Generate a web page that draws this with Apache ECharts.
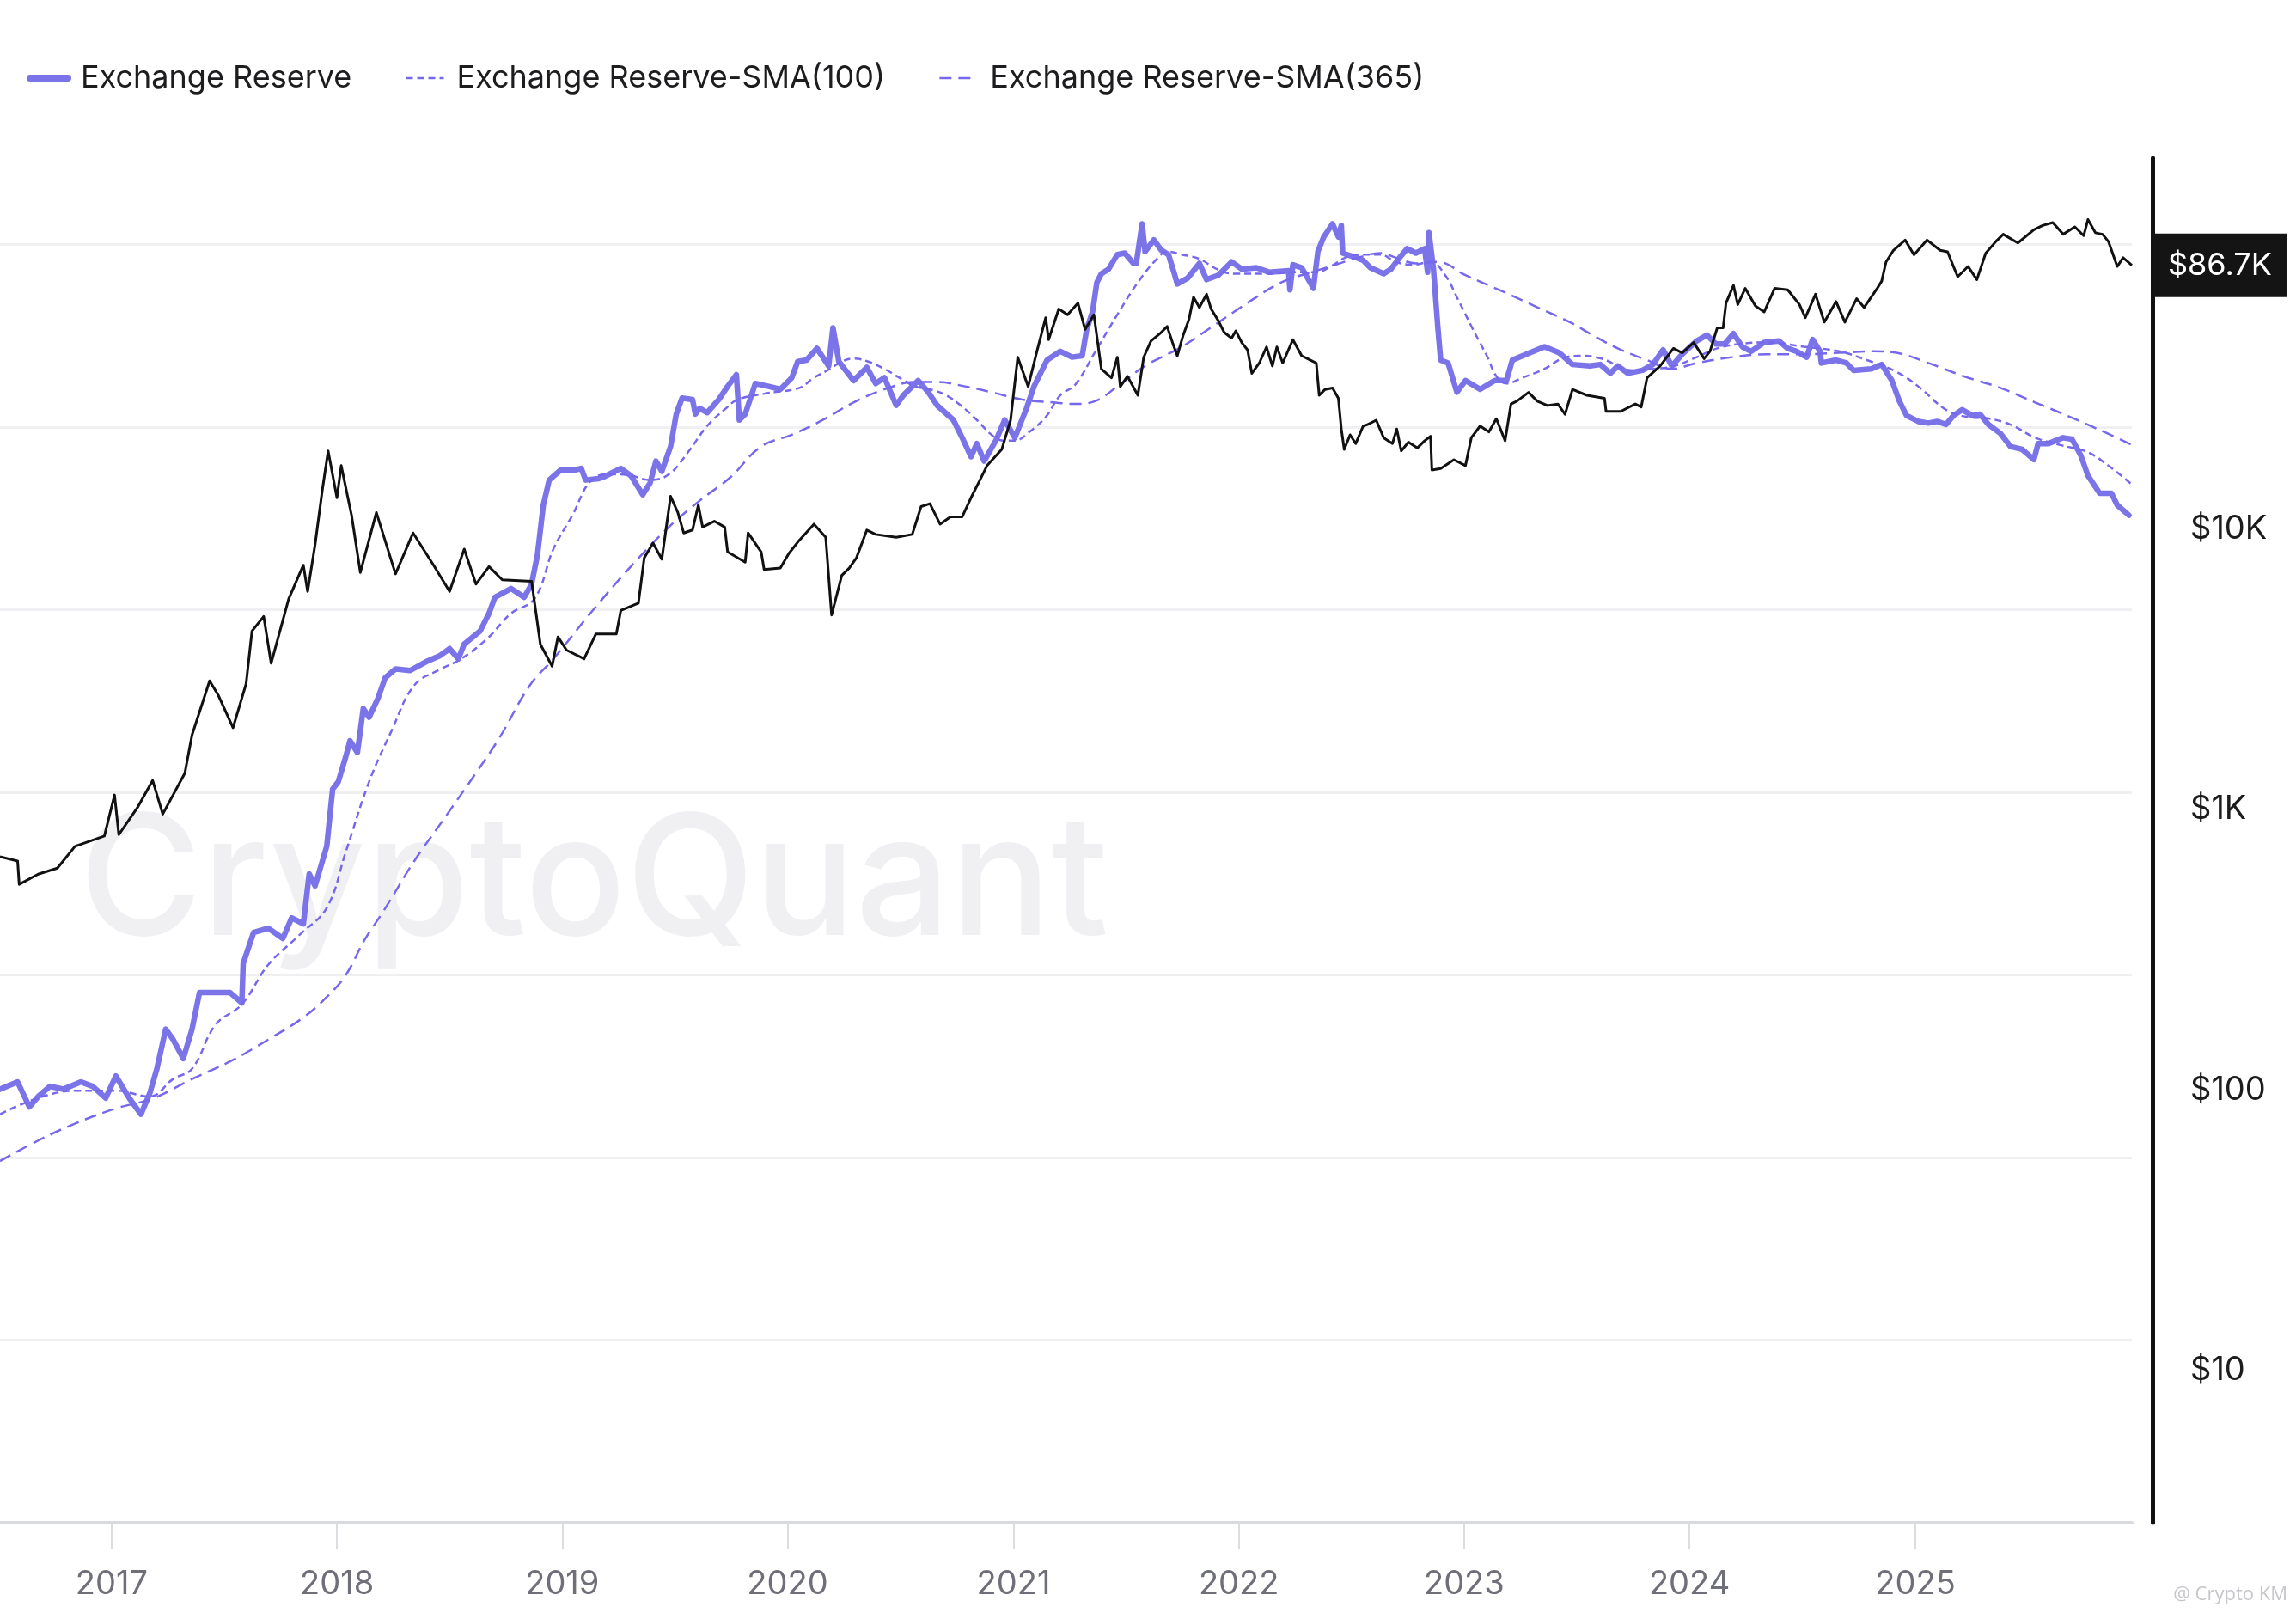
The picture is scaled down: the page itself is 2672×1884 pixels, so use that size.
<!DOCTYPE html>
<html>
<head>
<meta charset="utf-8">
<title>Exchange Reserve</title>
<script src="https://cdn.jsdelivr.net/npm/echarts@6/dist/echarts.min.js"></script>
<style>
  html, body { margin: 0; padding: 0; background: #ffffff; }
  #chart { width: 2672px; height: 1884px; }
</style>
</head>
<body>
<div id="chart"></div>
<script>
// tick labels
var yearTicks = [2017, 2018, 2019, 2020, 2021, 2022, 2023, 2024, 2025];
var priceTicks = [10, 100, 1000, 10000];
var lastPrice = 86700;

// BTC price (right log axis), dates as decimal years
var priceYears = [
  2016.506, 2016.584, 2016.591, 2016.675, 2016.760, 2016.838, 2016.968, 2017.013, 2017.032, 2017.117,
  2017.182, 2017.227, 2017.325, 2017.357, 2017.435, 2017.474, 2017.539, 2017.597, 2017.623, 2017.675,
  2017.708, 2017.786, 2017.851, 2017.870, 2017.903, 2017.935, 2017.961, 2018.000, 2018.019, 2018.065,
  2018.104, 2018.175, 2018.260, 2018.338, 2018.429, 2018.500, 2018.565, 2018.617, 2018.675, 2018.734,
  2018.864, 2018.903, 2018.955, 2018.981, 2019.019, 2019.097, 2019.149, 2019.240, 2019.260, 2019.338,
  2019.364, 2019.403, 2019.442, 2019.481, 2019.513, 2019.539, 2019.578, 2019.604, 2019.623, 2019.675,
  2019.721, 2019.734, 2019.812, 2019.825, 2019.883, 2019.896, 2019.968, 2020.006, 2020.052, 2020.117,
  2020.169, 2020.195, 2020.240, 2020.273, 2020.305, 2020.351, 2020.390, 2020.481, 2020.552, 2020.591,
  2020.630, 2020.675, 2020.721, 2020.773, 2020.812, 2020.851, 2020.883, 2020.948, 2020.987, 2021.019,
  2021.065, 2021.104, 2021.143, 2021.156, 2021.201, 2021.240, 2021.286, 2021.318, 2021.357, 2021.390,
  2021.435, 2021.461, 2021.474, 2021.506, 2021.552, 2021.578, 2021.610, 2021.649, 2021.682, 2021.708,
  2021.727, 2021.753, 2021.779, 2021.799, 2021.825, 2021.857, 2021.877, 2021.909, 2021.935, 2021.968,
  2021.987, 2022.013, 2022.039, 2022.058, 2022.091, 2022.123, 2022.149, 2022.169, 2022.195, 2022.240,
  2022.279, 2022.318, 2022.344, 2022.357, 2022.383, 2022.416, 2022.442, 2022.455, 2022.468, 2022.494,
  2022.519, 2022.552, 2022.571, 2022.610, 2022.643, 2022.682, 2022.701, 2022.721, 2022.753, 2022.792,
  2022.825, 2022.851, 2022.857, 2022.896, 2022.955, 2023.006, 2023.032, 2023.071, 2023.110, 2023.143,
  2023.182, 2023.208, 2023.234, 2023.286, 2023.325, 2023.370, 2023.416, 2023.448, 2023.481, 2023.545,
  2023.623, 2023.630, 2023.695, 2023.760, 2023.786, 2023.812, 2023.870, 2023.929, 2023.968, 2024.019,
  2024.065, 2024.091, 2024.123, 2024.149, 2024.162, 2024.195, 2024.214, 2024.247, 2024.292, 2024.331,
  2024.377, 2024.435, 2024.487, 2024.513, 2024.558, 2024.597, 2024.649, 2024.688, 2024.740, 2024.773,
  2024.831, 2024.851, 2024.870, 2024.903, 2024.955, 2024.994, 2025.052, 2025.110, 2025.143, 2025.169,
  2025.188, 2025.234, 2025.273, 2025.312, 2025.357, 2025.390, 2025.455, 2025.526, 2025.565, 2025.610,
  2025.656, 2025.708, 2025.747, 2025.766, 2025.799, 2025.831, 2025.857, 2025.896, 2025.922, 2025.961
];
var priceValues = [
  678, 654, 540, 587, 617, 738, 803, 1124, 812, 1021,
  1267, 961, 1345, 1839, 2868, 2543, 1953, 2800, 4314, 4864,
  3312, 5618, 7405, 5967, 8763, 13670, 18900, 12870, 16760, 11140,
  6975, 11410, 6891, 9645, 7405, 5967, 8453, 6337, 7316, 6567,
  6488, 3871, 3233, 4111, 3690, 3434, 4211, 4211, 5105, 5420,
  7867, 8872, 7774, 13030, 11410, 9645, 9880, 12120, 10120, 10620,
  10120, 8253, 7586, 9645, 8253, 7145, 7231, 8154, 9086, 10370,
  9306, 4922, 6808, 7231, 7867, 9880, 9532, 9306, 9532, 11980,
  12270, 10370, 11010, 11010, 12870, 14860, 16760, 19130, 24320, 40760,
  32060, 42780, 56390, 47100, 60590, 57770, 63600, 51230, 57770, 37040,
  34460, 40760, 32060, 34870, 29840, 40760, 46530, 49410, 52480, 45430,
  41260, 48820, 55720, 66720, 61330, 68350, 60590, 55060, 50000, 47680,
  50600, 45980, 43290, 35730, 38870, 44360, 37940, 44360, 38870, 47100,
  41260, 39800, 38870, 29840, 31310, 31680, 29130, 22640, 19130, 21580,
  20080, 23190, 23470, 24320, 21060, 20080, 22640, 18900, 20320, 19360,
  20560, 21320, 16170, 16370, 17590, 16760, 21060, 23190, 22100, 24620,
  20560, 27770, 28430, 30550, 28430, 27440, 27770, 25520, 31310, 29840,
  29130, 26150, 26150, 27770, 27100, 34460, 37940, 43830, 42270, 45980,
  40290, 42780, 51850, 51850, 63600, 73460, 62830, 71710, 62080, 59170,
  71710, 70860, 62830, 56390, 68350, 54390, 64370, 54390, 65920, 61330,
  71710, 76150, 89000, 98000, 106600, 94520, 106600, 98000, 96830, 85870,
  78950, 85870, 77070, 95650, 105300, 111800, 104100, 116000, 120200, 123100,
  111800, 118800, 110500, 126100, 113200, 111800, 105300, 85870, 92290, 86700
];

// exchange reserve (left hidden axis)
var reserveYears = [
  2016.506, 2016.584, 2016.636, 2016.675, 2016.727, 2016.786, 2016.864, 2016.916, 2016.974, 2017.019,
  2017.078, 2017.130, 2017.169, 2017.201, 2017.240, 2017.273, 2017.318, 2017.357, 2017.390, 2017.461,
  2017.526, 2017.578, 2017.584, 2017.630, 2017.695, 2017.760, 2017.799, 2017.851, 2017.877, 2017.903,
  2017.955, 2017.981, 2018.006, 2018.039, 2018.058, 2018.091, 2018.117, 2018.143, 2018.182, 2018.214,
  2018.260, 2018.325, 2018.396, 2018.455, 2018.500, 2018.539, 2018.565, 2018.636, 2018.675, 2018.701,
  2018.773, 2018.831, 2018.864, 2018.890, 2018.916, 2018.942, 2018.994, 2019.058, 2019.084, 2019.104,
  2019.162, 2019.182, 2019.260, 2019.305, 2019.357, 2019.390, 2019.416, 2019.442, 2019.481, 2019.506,
  2019.532, 2019.578, 2019.591, 2019.610, 2019.643, 2019.695, 2019.734, 2019.773, 2019.786, 2019.812,
  2019.857, 2019.916, 2019.968, 2020.019, 2020.045, 2020.084, 2020.130, 2020.182, 2020.201, 2020.227,
  2020.292, 2020.351, 2020.390, 2020.429, 2020.481, 2020.513, 2020.578, 2020.623, 2020.662, 2020.734,
  2020.773, 2020.812, 2020.838, 2020.870, 2020.922, 2020.961, 2021.006, 2021.058, 2021.091, 2021.149,
  2021.208, 2021.260, 2021.305, 2021.325, 2021.351, 2021.370, 2021.390, 2021.422, 2021.461, 2021.494,
  2021.532, 2021.545, 2021.571, 2021.584, 2021.623, 2021.656, 2021.688, 2021.714, 2021.727, 2021.773,
  2021.825, 2021.857, 2021.909, 2021.968, 2022.013, 2022.078, 2022.136, 2022.221, 2022.227, 2022.240,
  2022.279, 2022.331, 2022.351, 2022.377, 2022.416, 2022.442, 2022.455, 2022.461, 2022.519, 2022.552,
  2022.584, 2022.643, 2022.675, 2022.714, 2022.747, 2022.786, 2022.825, 2022.838, 2022.844, 2022.864,
  2022.883, 2022.896, 2022.929, 2022.968, 2023.006, 2023.071, 2023.136, 2023.188, 2023.214, 2023.292,
  2023.357, 2023.422, 2023.481, 2023.558, 2023.604, 2023.649, 2023.682, 2023.727, 2023.792, 2023.838,
  2023.883, 2023.922, 2023.968, 2024.032, 2024.078, 2024.117, 2024.156, 2024.195, 2024.234, 2024.273,
  2024.331, 2024.396, 2024.435, 2024.474, 2024.519, 2024.545, 2024.578, 2024.584, 2024.649, 2024.695,
  2024.727, 2024.805, 2024.851, 2024.896, 2024.929, 2024.961, 2025.013, 2025.058, 2025.097, 2025.136,
  2025.169, 2025.208, 2025.253, 2025.286, 2025.325, 2025.377, 2025.422, 2025.474, 2025.526, 2025.545,
  2025.591, 2025.656, 2025.695, 2025.734, 2025.766, 2025.818, 2025.870, 2025.896, 2025.948
];
var reserveValues = [
  2.374, 2.414, 2.277, 2.334, 2.390, 2.374, 2.414, 2.390, 2.326, 2.446,
  2.326, 2.237, 2.350, 2.486, 2.703, 2.646, 2.542, 2.703, 2.903, 2.903,
  2.903, 2.847, 3.063, 3.232, 3.256, 3.200, 3.312, 3.280, 3.553, 3.488,
  3.705, 4.018, 4.058, 4.194, 4.282, 4.218, 4.459, 4.411, 4.515, 4.627,
  4.675, 4.667, 4.715, 4.747, 4.787, 4.731, 4.812, 4.884, 4.980, 5.068,
  5.116, 5.068, 5.140, 5.301, 5.573, 5.710, 5.766, 5.766, 5.774, 5.710,
  5.718, 5.726, 5.774, 5.734, 5.630, 5.694, 5.814, 5.758, 5.894, 6.071,
  6.159, 6.151, 6.071, 6.103, 6.079, 6.151, 6.223, 6.287, 6.039, 6.071,
  6.239, 6.223, 6.207, 6.271, 6.359, 6.367, 6.431, 6.335, 6.544, 6.359,
  6.255, 6.327, 6.239, 6.271, 6.119, 6.175, 6.255, 6.191, 6.119, 6.039,
  5.942, 5.838, 5.910, 5.814, 5.926, 6.039, 5.942, 6.103, 6.223, 6.367,
  6.415, 6.383, 6.391, 6.536, 6.632, 6.792, 6.840, 6.865, 6.945, 6.953,
  6.897, 6.897, 7.113, 6.961, 7.025, 6.969, 6.945, 6.840, 6.784, 6.816,
  6.897, 6.808, 6.832, 6.905, 6.865, 6.873, 6.848, 6.856, 6.752, 6.889,
  6.873, 6.760, 6.961, 7.041, 7.113, 7.041, 7.105, 6.953, 6.929, 6.913,
  6.873, 6.840, 6.865, 6.929, 6.977, 6.953, 6.977, 6.848, 7.065, 6.865,
  6.552, 6.367, 6.351, 6.191, 6.255, 6.207, 6.255, 6.255, 6.367, 6.407,
  6.440, 6.407, 6.343, 6.335, 6.343, 6.295, 6.335, 6.295, 6.311, 6.343,
  6.423, 6.335, 6.399, 6.472, 6.504, 6.455, 6.455, 6.512, 6.440, 6.415,
  6.464, 6.472, 6.431, 6.415, 6.383, 6.480, 6.415, 6.351, 6.367, 6.351,
  6.311, 6.319, 6.343, 6.255, 6.143, 6.063, 6.031, 6.022, 6.031, 6.014,
  6.063, 6.095, 6.063, 6.071, 6.014, 5.966, 5.894, 5.878, 5.822, 5.910,
  5.910, 5.942, 5.934, 5.846, 5.734, 5.638, 5.638, 5.573, 5.517
];

// SMA(100)
var sma100Years = [
  2016.506, 2016.675, 2016.844, 2017.019, 2017.169, 2017.273, 2017.357, 2017.461, 2017.578, 2017.695,
  2017.831, 2017.955, 2018.039, 2018.143, 2018.240, 2018.344, 2018.461, 2018.552, 2018.669, 2018.773,
  2018.877, 2018.961, 2019.045, 2019.130, 2019.221, 2019.305, 2019.390, 2019.474, 2019.558, 2019.643,
  2019.727, 2019.779, 2019.896, 2020.052, 2020.117, 2020.188, 2020.240, 2020.292, 2020.357, 2020.429,
  2020.494, 2020.565, 2020.630, 2020.701, 2020.766, 2020.838, 2020.903, 2020.955, 2021.006, 2021.071,
  2021.143, 2021.208, 2021.273, 2021.364, 2021.461, 2021.552, 2021.636, 2021.682, 2021.747, 2021.825,
  2021.903, 2021.981, 2022.136, 2022.247, 2022.344, 2022.409, 2022.474, 2022.532, 2022.630, 2022.695,
  2022.773, 2022.851, 2022.916, 2022.974, 2023.039, 2023.104, 2023.143, 2023.188, 2023.260, 2023.357,
  2023.435, 2023.513, 2023.610, 2023.747, 2023.844, 2023.935, 2024.032, 2024.123, 2024.221, 2024.344,
  2024.506, 2024.662, 2024.786, 2024.916, 2025.013, 2025.136, 2025.234, 2025.325, 2025.422, 2025.532,
  2025.643, 2025.766, 2025.864, 2025.961
];
var sma100Values = [
  2.237, 2.326, 2.366, 2.366, 2.334, 2.430, 2.486, 2.727, 2.839, 3.055,
  3.216, 3.368, 3.673, 4.058, 4.330, 4.587, 4.675, 4.731, 4.844, 4.980,
  5.060, 5.333, 5.517, 5.710, 5.742, 5.734, 5.710, 5.742, 5.862, 6.006,
  6.103, 6.151, 6.183, 6.215, 6.271, 6.319, 6.359, 6.375, 6.359, 6.319,
  6.271, 6.223, 6.207, 6.175, 6.119, 6.039, 5.958, 5.926, 5.926, 5.974,
  6.055, 6.175, 6.231, 6.415, 6.616, 6.792, 6.921, 6.961, 6.945, 6.921,
  6.865, 6.840, 6.840, 6.848, 6.848, 6.881, 6.929, 6.945, 6.945, 6.905,
  6.889, 6.905, 6.832, 6.696, 6.536, 6.383, 6.279, 6.239, 6.271, 6.319,
  6.375, 6.391, 6.375, 6.311, 6.319, 6.335, 6.383, 6.431, 6.455, 6.464,
  6.440, 6.415, 6.367, 6.303, 6.223, 6.095, 6.055, 6.047, 6.014, 5.942,
  5.902, 5.862, 5.782, 5.686
];

// SMA(365)
var sma365Years = [
  2016.506, 2016.675, 2016.844, 2017.019, 2017.188, 2017.357, 2017.526, 2017.695, 2017.851, 2017.955,
  2018.039, 2018.123, 2018.208, 2018.344, 2018.481, 2018.617, 2018.721, 2018.857, 2018.961, 2019.130,
  2019.305, 2019.474, 2019.610, 2019.747, 2019.883, 2020.019, 2020.156, 2020.292, 2020.429, 2020.565,
  2020.662, 2020.786, 2020.903, 2021.039, 2021.175, 2021.273, 2021.364, 2021.461, 2021.584, 2021.747,
  2021.903, 2022.058, 2022.188, 2022.299, 2022.409, 2022.532, 2022.630, 2022.695, 2022.786, 2022.883,
  2023.006, 2023.169, 2023.325, 2023.481, 2023.558, 2023.682, 2023.812, 2023.922, 2024.032, 2024.188,
  2024.344, 2024.506, 2024.662, 2024.818, 2024.916, 2025.058, 2025.214, 2025.377, 2025.532, 2025.688,
  2025.851, 2025.961
];
var sma365Values = [
  1.981, 2.093, 2.189, 2.269, 2.326, 2.430, 2.526, 2.646, 2.767, 2.879,
  2.999, 3.192, 3.352, 3.625, 3.865, 4.106, 4.298, 4.587, 4.731, 4.988,
  5.237, 5.453, 5.597, 5.726, 5.894, 5.958, 6.039, 6.135, 6.207, 6.247,
  6.247, 6.223, 6.191, 6.151, 6.135, 6.127, 6.143, 6.223, 6.335, 6.440,
  6.568, 6.696, 6.792, 6.840, 6.881, 6.929, 6.953, 6.929, 6.897, 6.905,
  6.832, 6.744, 6.656, 6.568, 6.512, 6.431, 6.367, 6.319, 6.351, 6.383,
  6.399, 6.399, 6.407, 6.415, 6.407, 6.351, 6.279, 6.215, 6.135, 6.055,
  5.966, 5.902
];

// decimal year -> timestamp
function yearToTime(y) {
  var yr = Math.floor(y);
  var s = Date.UTC(yr, 0, 1), e = Date.UTC(yr + 1, 0, 1);
  return s + (y - yr) * (e - s);
}
function pairUp(xs, vs) {
  return xs.map(function (x, i) { return [yearToTime(x), vs[i]]; });
}
function priceLabel(v) {
  if (v >= 1000) return '$' + Math.round(v / 1000) + 'K';
  return '$' + Math.round(v);
}

var FONT = 'Inter, "Noto Sans", sans-serif';
var RES_COLOR = '#7b73e8';
var SMA_COLOR = '#7668ec';
var yearStamps = yearTicks.map(function (y) { return Date.UTC(y, 0, 1); });

var chart = echarts.init(document.getElementById('chart'));

var option = {
  backgroundColor: '#ffffff',
  animation: false,
  textStyle: { fontFamily: FONT },
  legend: {
    data: [
      { name: 'Exchange Reserve', lineStyle: { width: 8, cap: 'round' } },
      { name: 'Exchange Reserve-SMA(100)', lineStyle: { width: 2.5 } },
      { name: 'Exchange Reserve-SMA(365)', lineStyle: { width: 2.5 } }
    ],
    left: 26,
    top: 68,
    itemWidth: 44,
    itemHeight: 20,
    itemGap: 62,
    itemStyle: { opacity: 0 },
    textStyle: { fontSize: 36, color: '#1d1d1f', fontFamily: FONT, padding: [0, 0, 0, 10] }
  },
  grid: { left: 0, right: 191, top: 184, bottom: 112 },
  xAxis: {
    type: 'value',
    min: yearToTime(2016.506),
    max: yearToTime(2025.961),
    axisLine: { show: true, lineStyle: { color: '#d9d9e0', width: 4 } },
    axisTick: {
      show: true, length: 30,
      customValues: yearStamps,
      lineStyle: { color: '#dcdce3', width: 2 }
    },
    axisLabel: {
      customValues: yearStamps,
      formatter: function (v) { return String(new Date(v).getUTCFullYear()); },
      color: '#6f6f7a', fontSize: 38, margin: 53, fontFamily: FONT
    },
    splitLine: { show: false }
  },
  yAxis: [
    {
      type: 'value',
      position: 'left',
      min: 0,
      max: 7.473,
      interval: 1,
      axisLine: { show: false },
      axisTick: { show: false },
      axisLabel: { show: false },
      splitLine: { show: true, showMinLine: false, showMaxLine: false, lineStyle: { color: '#f0f0f2', width: 3 } }
    },
    {
      type: 'log',
      position: 'right',
      offset: 24,
      min: 2.872,
      max: 208800,
      axisLine: { show: true, lineStyle: { color: '#111111', width: 5 } },
      axisTick: { show: false },
      splitLine: { show: false },
      axisLabel: {
        customValues: priceTicks,
        formatter: priceLabel,
        color: '#1c1c1e', fontSize: 38, margin: 44, fontFamily: FONT
      }
    }
  ],
  graphic: [
    {
      type: 'text', left: 92, top: 932, z: 0, silent: true,
      style: { text: 'CryptoQuant', fontSize: 195, fontWeight: 500, fontFamily: FONT, fill: '#f0f0f3' }
    },
    {
      type: 'text', right: 10, top: 1845, z: 0, silent: true,
      style: { text: '@ Crypto KM', fontSize: 22, fontFamily: 'Open Sans, sans-serif', fill: '#c6c6cb' }
    }
  ],
  series: [
    {
      name: 'Exchange Reserve',
      type: 'line',
      yAxisIndex: 0,
      symbol: 'none',
      color: RES_COLOR,
      lineStyle: { color: RES_COLOR, width: 6.5, join: 'round', cap: 'round' },
      data: pairUp(reserveYears, reserveValues),
      z: 2
    },
    {
      name: 'Exchange Reserve-SMA(100)',
      type: 'line',
      yAxisIndex: 0,
      symbol: 'none',
      smooth: 0.4,
      color: SMA_COLOR,
      lineStyle: { color: SMA_COLOR, width: 2.5, type: [8, 5] },
      data: pairUp(sma100Years, sma100Values),
      z: 3
    },
    {
      name: 'Exchange Reserve-SMA(365)',
      type: 'line',
      yAxisIndex: 0,
      symbol: 'none',
      smooth: 0.4,
      color: SMA_COLOR,
      lineStyle: { color: SMA_COLOR, width: 2.5, type: [14, 8] },
      data: pairUp(sma365Years, sma365Values),
      z: 3
    },
    {
      name: 'Price',
      type: 'line',
      yAxisIndex: 1,
      symbol: 'none',
      color: '#111111',
      lineStyle: { color: '#111111', width: 3, join: 'round' },
      data: pairUp(priceYears, priceValues),
      z: 4,
      markLine: {
        silent: true,
        symbol: 'none',
        lineStyle: { color: 'rgba(0,0,0,0)', width: 0 },
        label: {
          show: true,
          position: 'end',
          distance: 24,
          formatter: '$86.7K',
          color: '#ffffff',
          backgroundColor: '#141414',
          fontSize: 36,
          fontFamily: FONT,
          padding: [20, 18, 18, 18]
        },
        data: [{ yAxis: lastPrice }]
      }
    }
  ]
};

chart.setOption(option);
</script>
</body>
</html>
